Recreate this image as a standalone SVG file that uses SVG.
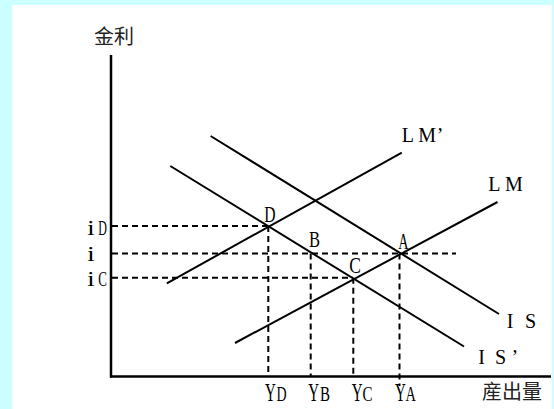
<svg xmlns="http://www.w3.org/2000/svg" width="554" height="409" viewBox="0 0 554 409">
<style>
.ln{stroke:#000;stroke-width:2;fill:none;stroke-linecap:butt}
.ax{stroke:#000;stroke-width:2.5;fill:none}
.ds{stroke:#000;stroke-width:2;fill:none;stroke-dasharray:6 4}
.cv{font-family:"Liberation Serif",serif;font-size:20px;fill:#000}
.nr{font-family:"Liberation Serif",serif;fill:#000}
.bg{font-size:25px}
.ii{font-size:22px}
.sm{font-size:20px}
.pt{font-size:23px}
.cj{font-family:"Noto Sans CJK SC","Noto Sans CJK JP",sans-serif;font-size:20px;fill:#222}
</style>
<rect x="0" y="0" width="554" height="409" fill="#CCFFFF"/>
<rect x="12" y="5" width="540" height="404" fill="#FFFFFF"/>
<g id="axes">
<line class="ax" x1="111" y1="55" x2="111" y2="377.5"/>
<line class="ax" x1="110" y1="376.5" x2="551" y2="376.5"/>
<text class="cj" x="94" y="44">金利</text>
<text class="cj" x="482" y="399">産出量</text>
</g>
<g id="connectors">
<line class="ds" x1="112" y1="226" x2="268" y2="226"/>
<line class="ds" x1="112" y1="253.5" x2="456" y2="253.5"/>
<line class="ds" x1="112" y1="277.7" x2="353" y2="277.7"/>
<line class="ds" x1="268.3" y1="226" x2="268.3" y2="376"/>
<line class="ds" x1="310.7" y1="253.5" x2="310.7" y2="376"/>
<line class="ds" x1="353.3" y1="277.7" x2="353.3" y2="376"/>
<line class="ds" x1="399.5" y1="253.5" x2="399.5" y2="386"/>
</g>
<g id="IS">
<line class="ln" x1="210.6" y1="136" x2="499" y2="314"/>
<text class="cv" x="506.7 525" y="328">IS</text>
</g>
<g id="IS-prime">
<line class="ln" x1="170.3" y1="166" x2="464" y2="346.5"/>
<text class="cv" x="478.3 495 511.5" y="364">IS’</text>
</g>
<g id="LM">
<line class="ln" x1="235" y1="343" x2="497.5" y2="202"/>
<text class="cv" x="488.3 505" y="190.7">LM</text>
</g>
<g id="LM-prime">
<line class="ln" x1="166.8" y1="283.3" x2="401.8" y2="152.7"/>
<text class="cv" x="401.7 418.3 436.7" y="141.7">LM’</text>
</g>
<g id="points">
<text class="nr pt" transform="translate(264.3,221.7) scale(0.68,1)">D</text>
<text class="nr pt" transform="translate(309,246.7) scale(0.72,1)">B</text>
<text class="nr pt" transform="translate(349.3,273.3) scale(0.76,1)">C</text>
<text class="nr pt" transform="translate(398.3,249) scale(0.62,1)">A</text>
</g>
<g id="rate-labels">
<text class="nr ii" transform="translate(87.3,235) scale(1.2,1)">i</text>
<text class="nr sm" transform="translate(98.3,235) scale(0.6,1)">D</text>
<text class="nr ii" transform="translate(87.3,261) scale(1.2,1)">i</text>
<text class="nr ii" transform="translate(87.3,286) scale(1.2,1)">i</text>
<text class="nr sm" transform="translate(98.3,286) scale(0.65,1)">C</text>
</g>
<g id="output-labels">
<text class="nr bg" transform="translate(265,401) scale(0.6,1)">Y</text>
<text class="nr sm" transform="translate(276.5,401) scale(0.7,1)">D</text>
<text class="nr bg" transform="translate(308.3,401) scale(0.6,1)">Y</text>
<text class="nr sm" transform="translate(320,401) scale(0.75,1)">B</text>
<text class="nr bg" transform="translate(351.7,401) scale(0.6,1)">Y</text>
<text class="nr sm" transform="translate(362.5,401) scale(0.75,1)">C</text>
<text class="nr bg" transform="translate(395,401) scale(0.6,1)">Y</text>
<text class="nr sm" transform="translate(405.5,401) scale(0.72,1)">A</text>
</g>
</svg>
